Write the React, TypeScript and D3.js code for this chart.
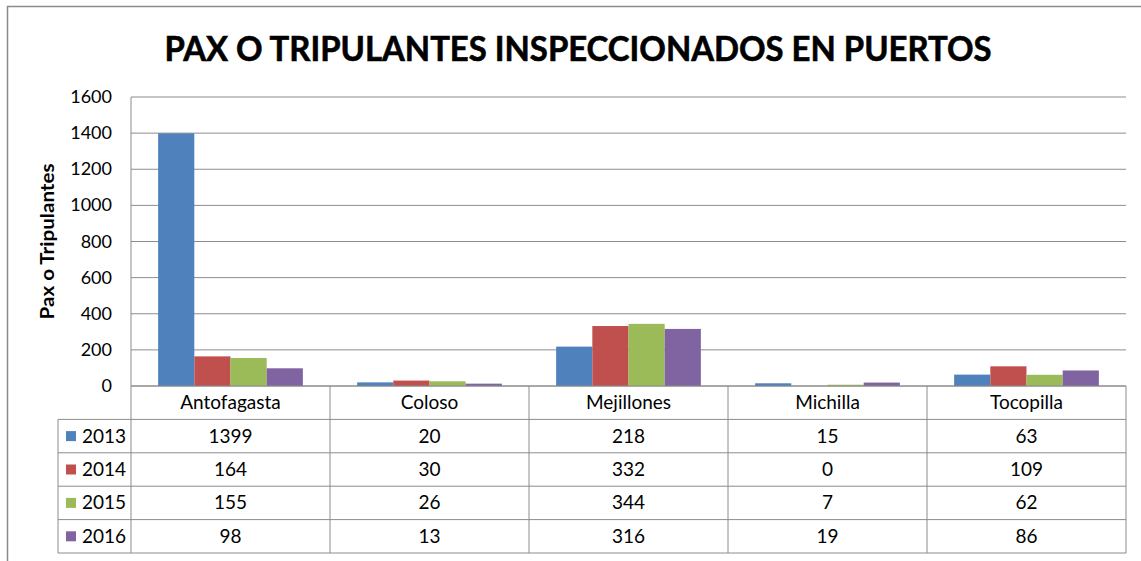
import React from "react";
import * as d3 from "d3";

const ports = ["Antofagasta", "Coloso", "Mejillones", "Michilla", "Tocopilla"];
const years = ["2013", "2014", "2015", "2016"];
const v2013 = [1399, 20, 218, 15, 63];
const v2014 = [164, 30, 332, 0, 109];
const v2015 = [155, 26, 344, 7, 62];
const v2016 = [98, 13, 316, 19, 86];
const yTicks = [0, 200, 400, 600, 800, 1000, 1200, 1400, 1600];
const colors = ["#4F81BD", "#C0504D", "#9BBB59", "#8064A2"];

const series = [v2013, v2014, v2015, v2016];

const FONT = "Lato, 'Liberation Sans', sans-serif";

const App = () => {
  const W = 1141;
  const H = 561;
  const plot = { left: 131, right: 1126, top: 97, bottom: 386 };
  const rowH = 33.4;
  const legendLeft = 58;

  const x = d3.scaleBand<string>().domain(ports).range([plot.left, plot.right]);
  // gap width 150% -> bars occupy 4 / (4 + 1.5) of the band
  const groupW = (x.bandwidth() * 4) / 5.5;
  const xi = d3
    .scaleBand<string>()
    .domain(years)
    .range([0, groupW]);
  const y = d3.scaleLinear().domain([0, 1600]).range([plot.bottom, plot.top]);

  const gridColor = "#8c8c8c";
  const tableTop = plot.bottom;
  const tableBottom = tableTop + rowH * 5;

  return (
    <svg width={W} height={H} style={{ position: "absolute", left: 0, top: 0 }}>
      <rect x={0} y={0} width={W} height={H} fill="#fff" />
      <rect x={7.5} y={6.5} width={W + 20} height={H + 20} fill="none" stroke="#8a8a8a" strokeWidth={1.5} />

      <text
        x={578}
        y={61}
        textAnchor="middle"
        fontFamily={FONT}
        fontWeight="bold"
        fontSize={34}
        textLength={827}
        lengthAdjust="spacingAndGlyphs"
        fill="#000"
        stroke="#000"
        strokeWidth={0.6}
      >
        PAX O TRIPULANTES INSPECCIONADOS EN PUERTOS
      </text>

      {/* gridlines */}
      {yTicks.map((t) => (
        <line key={t} x1={plot.left} x2={plot.right} y1={y(t)} y2={y(t)} stroke={gridColor} strokeWidth={1} />
      ))}
      <line x1={plot.left} x2={plot.left} y1={plot.top} y2={plot.bottom} stroke={gridColor} />

      {/* y ticks */}
      {yTicks.map((t) => (
        <text key={"t" + t} x={112} y={y(t) + 6} textAnchor="end" fontFamily={FONT} fontSize={18} fill="#000">
          {t}
        </text>
      ))}

      <text
        transform={`translate(54,${(plot.top + plot.bottom) / 2}) rotate(-90)`}
        textAnchor="middle"
        fontFamily={FONT}
        fontWeight="bold"
        fontSize={18}
        textLength={156}
        lengthAdjust="spacingAndGlyphs"
        fill="#000"
      >
        Pax o Tripulantes
      </text>

      {/* bars */}
      {ports.map((p, i) => {
        const gx = (x(p) as number) + (x.bandwidth() - groupW) / 2;
        return series.map((s, j) => (
          <rect
            key={p + j}
            x={gx + (xi(years[j]) as number)}
            y={y(s[i])}
            width={xi.bandwidth()}
            height={y(0) - y(s[i])}
            fill={colors[j]}
          />
        ));
      })}

      {/* data table */}
      <g stroke={gridColor} strokeWidth={1} fill="none">
        {[0, 1, 2, 3, 4, 5].map((r) => (
          <line
            key={"r" + r}
            x1={r === 0 ? plot.left : legendLeft}
            x2={plot.right}
            y1={tableTop + r * rowH}
            y2={tableTop + r * rowH}
          />
        ))}
        <line x1={legendLeft} x2={legendLeft} y1={tableTop + rowH} y2={tableBottom} />
        {ports.map((p) => (
          <line key={"c" + p} x1={x(p) as number} x2={x(p) as number} y1={tableTop} y2={tableBottom} />
        ))}
        <line x1={plot.right} x2={plot.right} y1={tableTop} y2={tableBottom} />
      </g>

      {ports.map((p) => (
        <text
          key={"lab" + p}
          x={(x(p) as number) + x.bandwidth() / 2}
          y={tableTop + rowH / 2 + 6.5}
          textAnchor="middle"
          fontFamily={FONT}
          fontSize={19}
          fill="#000"
        >
          {p}
        </text>
      ))}

      {years.map((yr, j) => {
        const cy = tableTop + rowH * (j + 1) + rowH / 2;
        return (
          <g key={yr}>
            <rect x={66} y={cy - 5} width={10} height={10} fill={colors[j]} />
            <text x={82} y={cy + 6.5} fontFamily={FONT} fontSize={19} fill="#000">
              {yr}
            </text>
            {ports.map((p, i) => (
              <text
                key={yr + p}
                x={(x(p) as number) + x.bandwidth() / 2}
                y={cy + 6.5}
                textAnchor="middle"
                fontFamily={FONT}
                fontSize={19}
                fill="#000"
              >
                {series[j][i]}
              </text>
            ))}
          </g>
        );
      })}
    </svg>
  );
};

export default App;
